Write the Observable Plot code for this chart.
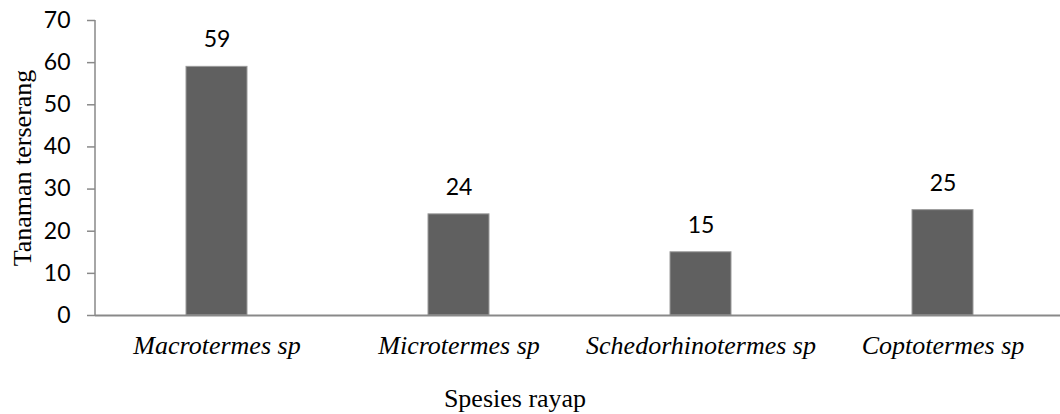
<!DOCTYPE html>
<html>
<head>
<meta charset="utf-8">
<script src="https://cdn.jsdelivr.net/npm/d3@7"></script>
<script src="https://cdn.jsdelivr.net/npm/@observablehq/plot@0.6"></script>
<style>
  html, body { margin: 0; padding: 0; background: #fff; }
</style>
</head>
<body>
<div id="chart"></div>
<script>
const species = ["Macrotermes sp", "Microtermes sp", "Schedorhinotermes sp", "Coptotermes sp"];
const attacked = [59, 24, 15, 25];
const yTicks = [0, 10, 20, 30, 40, 50, 60, 70];
const xTitle = "Spesies rayap";
const yTitle = "Tanaman terserang";

const data = species.map((s, i) => ({species: s, value: attacked[i]}));

const axisColor = "#898989";
const serif = "'Liberation Serif', 'Times New Roman', serif";
const sans = "Lato, Carlito, Calibri, sans-serif";

const yAxisLine = (index, scales, values, dimensions) => {
  const [y0, y1] = [scales.y(0), scales.y(70)];
  const x = dimensions.marginLeft;
  const line = document.createElementNS("http://www.w3.org/2000/svg", "line");
  line.setAttribute("x1", x); line.setAttribute("x2", x);
  line.setAttribute("y1", y0); line.setAttribute("y2", y1);
  line.setAttribute("stroke", axisColor);
  line.setAttribute("stroke-width", 1.5);
  return line;
};

const chart = Plot.plot({
  width: 1060,
  height: 414,
  marginLeft: 95,
  marginRight: 0,
  marginTop: 20,
  marginBottom: 99,
  style: {background: "#fff", overflow: "visible"},
  x: {domain: species, range: [95, 1064], paddingInner: 0.75, paddingOuter: 0.375, label: null},
  y: {domain: [0, 70], label: null},
  marks: [
    Plot.barY(data, {x: "species", y: "value", fill: "#606060", stroke: "#9a9a9a", strokeWidth: 1}),
    Plot.ruleY([0], {stroke: axisColor, strokeWidth: 2}),
    yAxisLine,
    Plot.axisY({ticks: yTicks, tickSize: 8, tickPadding: 17, stroke: axisColor, strokeWidth: 1.5,
      fontSize: 23, fontFamily: sans, fill: "#000", label: null}),
    Plot.axisX({tickSize: 0, tickPadding: 20, fontSize: 26, fontFamily: serif, fontStyle: "italic",
      fill: "#000", label: null}),
    Plot.text(data, {x: "species", y: "value", text: d => String(d.value), dy: -27,
      fontSize: 23, fontFamily: sans, fill: "#000"}),
    Plot.text([yTitle], {frameAnchor: "left", rotate: -90, dx: -73, textAnchor: "middle", lineAnchor: "middle",
      fontSize: 26, fontFamily: serif, fill: "#000"}),
    Plot.text([xTitle], {frameAnchor: "bottom", dx: -63, dy: 83, textAnchor: "middle", lineAnchor: "middle",
      fontSize: 26, fontFamily: serif, fill: "#000"})
  ]
});
document.getElementById("chart").appendChild(chart);
</script>
</body>
</html>
